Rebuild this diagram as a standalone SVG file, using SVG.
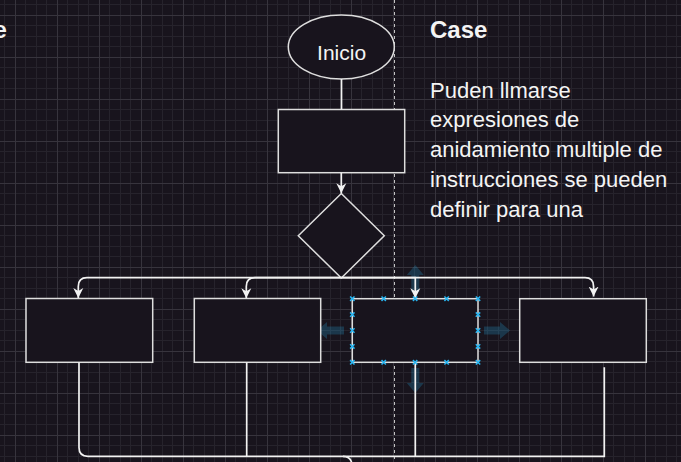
<svg xmlns="http://www.w3.org/2000/svg" width="681" height="462" viewBox="0 0 681 462">
<style>
.shape{fill:#18141d;stroke:#dedede;stroke-width:1.5}
.edge{fill:none;stroke:#f2f2f2;stroke-width:1.7}
.lbl{font-family:"Liberation Sans",Arial,sans-serif;fill:#f4f4f4}
.hover{fill:#29b6f2;fill-opacity:0.22}
.hdl{fill:none;stroke:#29b6f2;stroke-width:1.5}
</style>
<defs>
<pattern id="grid" x="15" y="15" width="42" height="42" patternUnits="userSpaceOnUse">
<path d="M10.5 0V42M21.5 0V42M31.5 0V42M0 10.5H42M0 21.5H42M0 31.5H42" stroke="#26232c" stroke-width="1" fill="none"/>
<path d="M0.5 0V42M0 0.5H42" stroke="#37343d" stroke-width="1" fill="none"/>
</pattern>
<marker id="arr" markerUnits="userSpaceOnUse" markerWidth="12" markerHeight="12" viewBox="0 0 12 12" refX="10" refY="6" orient="auto">
<path d="M0,1 L10,6 L0,11 L3,6 Z" fill="#f2f2f2"/>
</marker>
<path id="hx" d="M-2.2,-2.2L2.2,2.2M-2.2,2.2L2.2,-2.2" class="hdl"/>
</defs>
<rect width="681" height="462" fill="#18141d"/>
<rect width="681" height="462" fill="url(#grid)"/>
<line x1="394.5" y1="0" x2="394.5" y2="462" stroke="#c4c4c4" stroke-width="1" stroke-dasharray="3 3"/>

<g id="texts">
<text class="lbl" x="-6.5" y="38.3" font-size="24" font-weight="bold">e</text>
<text class="lbl" x="430" y="38.3" font-size="24" font-weight="bold">Case</text>
<text class="lbl" font-size="22">
<tspan x="430" y="97.7">Puden llmarse</tspan>
<tspan x="430" y="127.4">expresiones de</tspan>
<tspan x="430" y="157.1">anidamiento multiple de</tspan>
<tspan x="430" y="186.8">instrucciones se pueden</tspan>
<tspan x="430" y="216.5">definir para una</tspan>
</text>
</g>

<g id="hover-arrows">
<path class="hover" d="M317,330.5 L327,322 V326.5 H344 V334.5 H327 V339 Z"/>
<path class="hover" d="M510,330.5 L500,322 V326.5 H484 V334.5 H500 V339 Z"/>
<path class="hover" d="M415.3,265 L423.8,275 H419.3 V292 H411.3 V275 H406.8 Z"/>
<path class="hover" d="M415.3,393 L423.8,383 H419.3 V368 H411.3 V383 H406.8 Z"/>
</g>

<g id="inicio">
<ellipse class="shape" cx="341.3" cy="47" rx="53" ry="32"/>
<text class="lbl" x="341.6" y="60" font-size="21" text-anchor="middle">Inicio</text>
</g>
<g id="proceso"><rect class="shape" x="278.3" y="109.5" width="126.4" height="63.2"/></g>
<g id="decision"><path class="shape" d="M341.3,193.5 L384.3,235.8 L341.3,278 L298.3,235.8 Z"/></g>
<g id="caso1"><rect class="shape" x="26" y="298.5" width="126.7" height="63.8"/></g>
<g id="caso2"><rect class="shape" x="194.3" y="298.5" width="126.4" height="63.8"/></g>
<g id="caso3"><rect class="shape" x="352.3" y="298.7" width="125.7" height="63.6"/></g>
<g id="caso4"><rect class="shape" x="519.7" y="298.7" width="126.6" height="63.6"/></g>

<g id="connectors">
<path class="edge" d="M341.5,79 V109.5"/>
<path class="edge" d="M341.3,172.7 V193.3" marker-end="url(#arr)"/>
<path class="edge" d="M341.3,277.7 H87 Q78.3,277.7 78.3,286.5 V298" marker-end="url(#arr)"/>
<path class="edge" d="M341.3,277.7 H255 Q246.3,277.7 246.3,286.5 V298.3" marker-end="url(#arr)"/>
<path class="edge" d="M341.3,277.7 H415.3 V298.3" marker-end="url(#arr)"/>
<path class="edge" d="M341.3,277.7 H585 Q593.6,277.7 593.6,286.5 V296.5" marker-end="url(#arr)"/>
<path class="edge" d="M79,362.3 V447.5 Q79,456.3 88,456.3 H343 Q352,456.3 352,466"/>
<path class="edge" d="M246.7,362.3 V456.3"/>
<path class="edge" d="M415.3,362.3 V456.3"/>
<path class="edge" d="M604.3,367.3 V456.3 H343"/>
</g>

<g id="selection">
<use href="#hx" x="352.3" y="298.7"/><use href="#hx" x="383.7" y="298.7"/><use href="#hx" x="415.1" y="298.7"/><use href="#hx" x="446.6" y="298.7"/><use href="#hx" x="478" y="298.7"/>
<use href="#hx" x="352.3" y="362.3"/><use href="#hx" x="383.7" y="362.3"/><use href="#hx" x="415.1" y="362.3"/><use href="#hx" x="446.6" y="362.3"/><use href="#hx" x="478" y="362.3"/>
<use href="#hx" x="352.3" y="314.6"/><use href="#hx" x="352.3" y="330.5"/><use href="#hx" x="352.3" y="346.4"/>
<use href="#hx" x="478" y="314.6"/><use href="#hx" x="478" y="330.5"/><use href="#hx" x="478" y="346.4"/>
</g>
</svg>
